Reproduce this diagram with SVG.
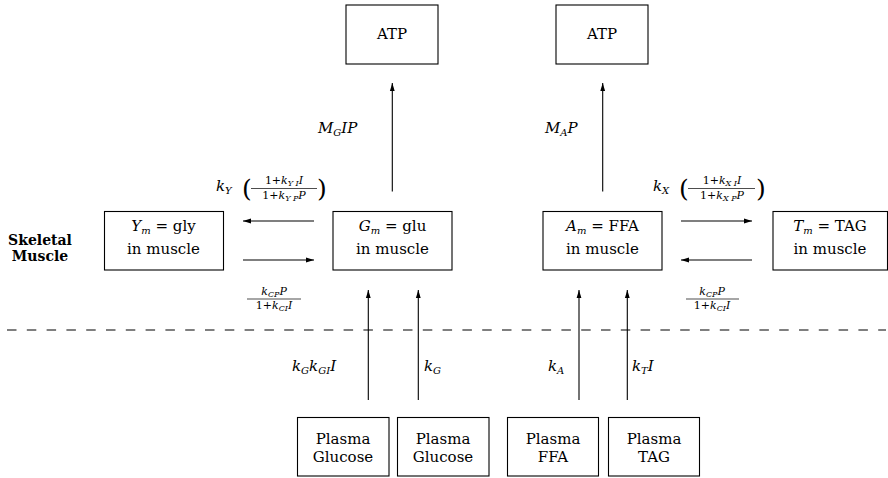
<svg xmlns="http://www.w3.org/2000/svg" width="888" height="478" viewBox="0 0 888 478">
<style>
text{font-family:"DejaVu Serif","Liberation Serif",serif;fill:#000}
.t{font-size:15px;text-anchor:middle}
.it{font-style:italic}
.m{font-size:15px}
.s{font-size:10px}
.ss{font-size:8px}
.f{font-size:11px;text-anchor:middle}
.b{font-size:14px;font-weight:bold;text-anchor:middle}
.p{font-size:25px}
.box{fill:none;stroke:#000;stroke-width:1.1}
.ln{stroke:#000;stroke-width:1.1;fill:none}
.fl{stroke:#000;stroke-width:0.7}
.dash{stroke:#000;stroke-width:1.1;stroke-dasharray:9.5 10.3}
</style>
<defs>
<marker id="ah" viewBox="0 0 8 6" refX="8" refY="3" markerWidth="8" markerHeight="6" markerUnits="userSpaceOnUse" orient="auto">
<path d="M0,0.6 L8,3 L0,5.4 Z" fill="#000"/>
</marker>
</defs>

<g id="atp1"><rect class="box" x="346" y="5" width="92" height="59"/><text class="t" x="392" y="39">ATP</text></g>
<g id="atp2"><rect class="box" x="556" y="5" width="92" height="59"/><text class="t" x="602" y="39">ATP</text></g>

<g id="label-skeletal"><text class="b" x="40" y="245">Skeletal</text><text class="b" x="40" y="261">Muscle</text></g>

<g id="ym"><rect class="box" x="104.5" y="211.5" width="119" height="58.5"/>
<text class="t" x="163.5" y="231"><tspan class="it">Y</tspan><tspan class="it s" dy="3">m</tspan><tspan dy="-3"> = gly</tspan></text>
<text class="t" x="163.5" y="254">in muscle</text></g>

<g id="gm"><rect class="box" x="333" y="211.5" width="119" height="58.5"/>
<text class="t" x="392.5" y="231"><tspan class="it">G</tspan><tspan class="it s" dy="3">m</tspan><tspan dy="-3"> = glu</tspan></text>
<text class="t" x="392.5" y="254">in muscle</text></g>

<g id="am"><rect class="box" x="543" y="211.5" width="119" height="58.5"/>
<text class="t" x="602.5" y="231"><tspan class="it">A</tspan><tspan class="it s" dy="3">m</tspan><tspan dy="-3"> = FFA</tspan></text>
<text class="t" x="602.5" y="254">in muscle</text></g>

<g id="tm"><rect class="box" x="773" y="211.5" width="114.5" height="58.5"/>
<text class="t" x="830" y="231"><tspan class="it">T</tspan><tspan class="it s" dy="3">m</tspan><tspan dy="-3"> = TAG</tspan></text>
<text class="t" x="830" y="254">in muscle</text></g>

<g id="pg1"><rect class="box" x="297.5" y="417.5" width="91.5" height="58.5"/>
<text class="t" x="343" y="444">Plasma</text><text class="t" x="343" y="462">Glucose</text></g>
<g id="pg2"><rect class="box" x="397.5" y="417.5" width="91.5" height="58.5"/>
<text class="t" x="443" y="444">Plasma</text><text class="t" x="443" y="462">Glucose</text></g>
<g id="pffa"><rect class="box" x="507.5" y="417.5" width="91" height="58.5"/>
<text class="t" x="553" y="444">Plasma</text><text class="t" x="553" y="462">FFA</text></g>
<g id="ptag"><rect class="box" x="608.5" y="417.5" width="91" height="58.5"/>
<text class="t" x="654" y="444">Plasma</text><text class="t" x="654" y="462">TAG</text></g>

<g id="connectors">
<line class="dash" x1="7" y1="330" x2="886" y2="330"/>
<line class="ln" x1="392.3" y1="191.5" x2="392.3" y2="83" marker-end="url(#ah)"/>
<line class="ln" x1="602.7" y1="191.5" x2="602.7" y2="83" marker-end="url(#ah)"/>
<line class="ln" x1="314" y1="221" x2="243" y2="221" marker-end="url(#ah)"/>
<line class="ln" x1="243" y1="260" x2="314" y2="260" marker-end="url(#ah)"/>
<line class="ln" x1="681" y1="221" x2="752" y2="221" marker-end="url(#ah)"/>
<line class="ln" x1="752" y1="260" x2="681" y2="260" marker-end="url(#ah)"/>
<line class="ln" x1="368.3" y1="400" x2="368.3" y2="290" marker-end="url(#ah)"/>
<line class="ln" x1="418.3" y1="400" x2="418.3" y2="290" marker-end="url(#ah)"/>
<line class="ln" x1="579" y1="400" x2="579" y2="290" marker-end="url(#ah)"/>
<line class="ln" x1="627.3" y1="400" x2="627.3" y2="290" marker-end="url(#ah)"/>
</g>

<g id="labels">
<text class="m" x="318" y="133"><tspan class="it">M</tspan><tspan class="it s" dy="3">G</tspan><tspan class="it" dy="-3">IP</tspan></text>
<text class="m" x="545" y="133"><tspan class="it">M</tspan><tspan class="it s" dy="3">A</tspan><tspan class="it" dy="-3">P</tspan></text>

<text class="m" x="216" y="191"><tspan class="it">k</tspan><tspan class="it s" dy="3">Y</tspan></text>
<text class="p" x="242" y="197">(</text>
<text class="f" x="284" y="184">1+<tspan class="it">k</tspan><tspan class="it ss" dy="2">Y I</tspan><tspan class="it" dy="-2">I</tspan></text>
<line class="fl" x1="251" y1="188.5" x2="317" y2="188.5"/>
<text class="f" x="284" y="198.5">1+<tspan class="it">k</tspan><tspan class="it ss" dy="2">Y P</tspan><tspan class="it" dy="-2">P</tspan></text>
<text class="p" x="317" y="197">)</text>

<text class="m" x="653" y="191"><tspan class="it">k</tspan><tspan class="it s" dy="3">X</tspan></text>
<text class="p" x="679" y="197">(</text>
<text class="f" x="722" y="184">1+<tspan class="it">k</tspan><tspan class="it ss" dy="2">X I</tspan><tspan class="it" dy="-2">I</tspan></text>
<line class="fl" x1="688" y1="188.5" x2="755" y2="188.5"/>
<text class="f" x="722" y="198.5">1+<tspan class="it">k</tspan><tspan class="it ss" dy="2">X P</tspan><tspan class="it" dy="-2">P</tspan></text>
<text class="p" x="756" y="197">)</text>

<text class="f" x="274" y="295"><tspan class="it">k</tspan><tspan class="it ss" dy="2">CP</tspan><tspan class="it" dy="-2">P</tspan></text>
<line class="fl" x1="247" y1="299" x2="301" y2="299"/>
<text class="f" x="274" y="308.5">1+<tspan class="it">k</tspan><tspan class="it ss" dy="2">CI</tspan><tspan class="it" dy="-2">I</tspan></text>

<text class="f" x="712" y="295"><tspan class="it">k</tspan><tspan class="it ss" dy="2">CP</tspan><tspan class="it" dy="-2">P</tspan></text>
<line class="fl" x1="686" y1="299" x2="739" y2="299"/>
<text class="f" x="712" y="308.5">1+<tspan class="it">k</tspan><tspan class="it ss" dy="2">CI</tspan><tspan class="it" dy="-2">I</tspan></text>

<text class="m" x="292" y="371"><tspan class="it">k</tspan><tspan class="it s" dy="3">G</tspan><tspan class="it" dy="-3">k</tspan><tspan class="it s" dy="3">GI</tspan><tspan class="it" dy="-3">I</tspan></text>
<text class="m" x="424" y="371"><tspan class="it">k</tspan><tspan class="it s" dy="3">G</tspan></text>
<text class="m" x="548" y="371"><tspan class="it">k</tspan><tspan class="it s" dy="3">A</tspan></text>
<text class="m" x="632" y="371"><tspan class="it">k</tspan><tspan class="it s" dy="3">T</tspan><tspan class="it" dy="-3">I</tspan></text>
</g>
</svg>
